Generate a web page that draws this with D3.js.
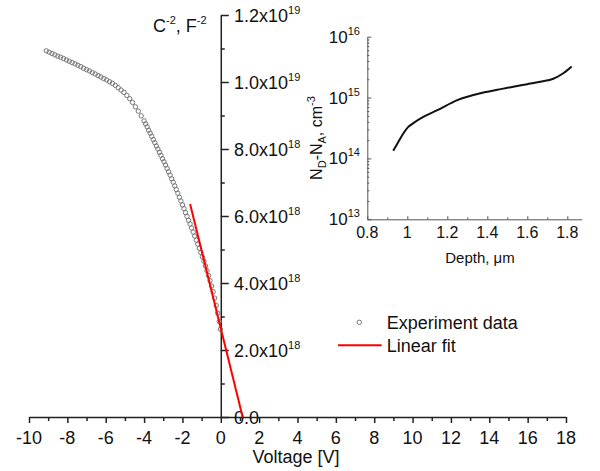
<!DOCTYPE html>
<html>
<head>
<meta charset="utf-8">
<script src="https://cdn.jsdelivr.net/npm/d3@7"></script>
<style>
  body { margin: 0; background: #fff; }
  svg { display: block; font-family: Arial, "Liberation Sans", sans-serif; }
</style>
</head>
<body>
<svg id="chart" width="600" height="471"></svg>
<script>
// ---------- Data ----------
const voltage = [
  -9.10,-8.95,-8.80,-8.65,-8.50,-8.35,-8.20,-8.05,-7.90,-7.75,-7.60,-7.45,-7.30,-7.15,-7.00,
  -6.85,-6.70,-6.55,-6.40,-6.25,-6.10,-5.95,-5.80,-5.65,-5.50,-5.35,-5.20,-5.05,-4.90,-4.75,
  -4.60,-4.45,-4.30,-4.15,
  -4.00,-3.92,-3.84,-3.76,-3.68,-3.60,-3.52,-3.44,-3.36,-3.28,-3.20,-3.12,-3.04,-2.96,-2.88,
  -2.80,-2.72,-2.64,-2.56,-2.48,-2.40,-2.32,-2.24,-2.16,-2.08,-2.00,-1.92,-1.84,-1.76,-1.68,
  -1.60,-1.52,-1.44,-1.36,-1.28,-1.20,-1.12,-1.04,-0.96,-0.88,-0.80,-0.72,-0.64,-0.56,-0.48,
  -0.40,-0.32,-0.24,-0.16,-0.08,-0.02
];
const capInvSq = [
  10.93e18,10.89e18,10.85e18,10.81e18,10.77e18,10.74e18,10.70e18,10.66e18,10.62e18,10.58e18,
  10.54e18,10.50e18,10.46e18,10.41e18,10.37e18,10.33e18,10.28e18,10.24e18,10.19e18,10.15e18,
  10.10e18,10.06e18,10.01e18,9.96e18,9.90e18,9.83e18,9.76e18,9.69e18,9.60e18,9.50e18,
  9.39e18,9.26e18,9.13e18,8.99e18,
  8.84e18,8.75e18,8.66e18,8.56e18,8.47e18,8.38e18,8.28e18,8.19e18,8.09e18,8.00e18,
  7.90e18,7.81e18,7.71e18,7.62e18,7.52e18,7.42e18,7.32e18,7.22e18,7.11e18,7.01e18,
  6.90e18,6.79e18,6.68e18,6.56e18,6.45e18,6.33e18,6.22e18,6.10e18,5.99e18,5.87e18,
  5.76e18,5.64e18,5.52e18,5.40e18,5.28e18,5.16e18,5.04e18,4.91e18,4.78e18,4.65e18,
  4.51e18,4.37e18,4.22e18,4.07e18,3.91e18,3.74e18,3.55e18,3.33e18,3.10e18,2.85e18,2.62e18
];
const fitVoltage = [-1.60, 1.14];
const fitCapInvSq = [6.36e18, 0];

const xMajorTicks = [-10,-8,-6,-4,-2,0,2,4,6,8,10,12,14,16,18];
const xMinorTicks = [-9,-7,-5,-3,-1,1,3,5,7,9,11,13,15,17];
const yMajorTicks = [0, 2e18, 4e18, 6e18, 8e18, 1e19, 1.2e19];
const yMajorLabels = [["0.0",""],["2.0x10","18"],["4.0x10","18"],["6.0x10","18"],["8.0x10","18"],["1.0x10","19"],["1.2x10","19"]];
const yMinorTicks = [1e18, 3e18, 5e18, 7e18, 9e18, 11e18];

// inset: doping profile
const depth = [0.93,0.955,0.98,1.005,1.03,1.08,1.15,1.25,1.36,1.45,1.53,1.60,1.665,1.73,1.78,1.822];
const doping = [1.34e14,1.86e14,2.57e14,3.3e14,3.8e14,4.8e14,6.2e14,9.1e14,1.17e15,1.34e15,1.51e15,1.66e15,1.82e15,2.04e15,2.51e15,3.24e15];
const insetXTicks = [0.8,1.0,1.2,1.4,1.6,1.8];
const insetXLabels = ["0.8","1","1.2","1.4","1.6","1.8"];
const insetXMinor = [0.9,1.1,1.3,1.5,1.7];
const insetYTicks = [1e13,1e14,1e15,1e16];
const insetYExp = ["13","14","15","16"];

// ---------- Chart ----------
const svg = d3.select("#chart");
const axisColor = "#222";

const x = d3.scaleLinear().domain([-10, 18]).range([29, 566]);
const y = d3.scaleLinear().domain([0, 1.2e19]).range([417, 15]);

// X axis
const gx = svg.append("g").attr("transform", `translate(0,${y(0)})`);
gx.call(d3.axisBottom(x).tickValues(xMajorTicks).tickSize(6).tickSizeOuter(0).tickFormat(""));
svg.append("g").attr("transform", `translate(0,${y(0)})`)
  .call(d3.axisBottom(x).tickValues(xMinorTicks).tickSize(4).tickSizeOuter(0).tickFormat(""))
  .select(".domain").remove();
svg.selectAll(".domain, .tick line").attr("stroke", axisColor).attr("stroke-width", 1.5);
svg.append("g").selectAll("text").data(xMajorTicks).join("text")
  .attr("x", d => x(d)).attr("y", 444)
  .attr("text-anchor", "middle").attr("font-size", 18).attr("fill", "#111")
  .text(d => d);
svg.append("text").attr("x", 296).attr("y", 463).attr("text-anchor", "middle")
  .attr("font-size", 18).attr("fill", "#111").text("Voltage [V]");

// Y axis
const gy = svg.append("g").attr("transform", `translate(${x(0)},0)`);
gy.call(d3.axisRight(y).tickValues(yMajorTicks).tickSize(8).tickSizeOuter(0).tickFormat(""));
const gy2 = svg.append("g").attr("transform", `translate(${x(0)},0)`);
gy2.call(d3.axisRight(y).tickValues(yMinorTicks).tickSize(4).tickSizeOuter(0).tickFormat(""));
gy2.select(".domain").remove();
[gy, gy2].forEach(g => g.selectAll(".domain, .tick line").attr("stroke", axisColor).attr("stroke-width", 1.5));

const yl = svg.append("g").selectAll("text").data(yMajorTicks).join("text")
  .attr("x", 234).attr("y", d => y(d) + 6.5)
  .attr("font-size", 18).attr("fill", "#111");
yl.append("tspan").text((d, i) => yMajorLabels[i][0]);
yl.append("tspan").attr("font-size", 11).attr("dy", -8).text((d, i) => yMajorLabels[i][1]);

// Title
const title = svg.append("text").attr("x", 153).attr("y", 32).attr("font-size", 18).attr("fill", "#111");
title.append("tspan").text("C");
title.append("tspan").attr("font-size", 11).attr("dy", -8).text("-2");
title.append("tspan").attr("dy", 8).text(", F");
title.append("tspan").attr("font-size", 11).attr("dy", -8).text("-2");

// Experimental data
const pts = voltage.map((v, i) => [v, capInvSq[i]]);
svg.append("g").selectAll("circle").data(pts).join("circle")
  .attr("cx", d => x(d[0])).attr("cy", d => y(d[1])).attr("r", 2.2)
  .attr("fill", "none").attr("stroke", "#777").attr("stroke-width", 1);

// Linear fit
const fitPts = fitVoltage.map((v, i) => [v, fitCapInvSq[i]]);
svg.append("path").datum(fitPts)
  .attr("d", d3.line().x(d => x(d[0])).y(d => y(d[1])))
  .attr("stroke", "#ff0000").attr("stroke-width", 2).attr("fill", "none");

// Legend
svg.append("circle").attr("cx", 359.3).attr("cy", 322.3).attr("r", 2.2)
  .attr("fill", "none").attr("stroke", "#777").attr("stroke-width", 1);
svg.append("text").attr("x", 386.7).attr("y", 328.5).attr("font-size", 18).attr("fill", "#111").text("Experiment data");
svg.append("line").attr("x1", 338).attr("x2", 381.7).attr("y1", 345.3).attr("y2", 345.3)
  .attr("stroke", "#ff0000").attr("stroke-width", 2);
svg.append("text").attr("x", 386.7).attr("y", 351.5).attr("font-size", 18).attr("fill", "#111").text("Linear fit");

// ---------- Inset ----------
const ix = d3.scaleLinear().domain([0.8, 1.872]).range([367.3, 581.7]);
const iy = d3.scaleLog().domain([1e13, 1e16]).range([219.3, 36.7]);
const insetColor = "#555";

const igx = svg.append("g").attr("transform", `translate(0,${iy(1e13)})`);
igx.call(d3.axisTop(ix).tickValues(insetXTicks).tickSize(3).tickSizeOuter(0).tickFormat(""));
const igx2 = svg.append("g").attr("transform", `translate(0,${iy(1e13)})`);
igx2.call(d3.axisTop(ix).tickValues(insetXMinor).tickSize(2).tickSizeOuter(0).tickFormat(""));
igx2.select(".domain").remove();

const minorLog = [];
[1e13, 1e14, 1e15].forEach(b => { for (let k = 2; k <= 9; k++) minorLog.push(b * k); });
const igy = svg.append("g").attr("transform", `translate(${ix(0.8)},0)`);
igy.call(d3.axisRight(iy).tickValues(insetYTicks).tickSize(4).tickSizeOuter(0).tickFormat(""));
const igy2 = svg.append("g").attr("transform", `translate(${ix(0.8)},0)`);
igy2.call(d3.axisRight(iy).tickValues(minorLog).tickSize(2).tickSizeOuter(0).tickFormat(""));
igy2.select(".domain").remove();
[igx, igx2, igy, igy2].forEach(g => g.selectAll(".domain, .tick line").attr("stroke", insetColor).attr("stroke-width", 1));

svg.append("g").selectAll("text").data(insetXTicks).join("text")
  .attr("x", d => ix(d)).attr("y", 237.5).attr("text-anchor", "middle")
  .attr("font-size", 16).attr("fill", "#111")
  .text((d, i) => insetXLabels[i]);
svg.append("text").attr("x", 480).attr("y", 263).attr("text-anchor", "middle")
  .attr("font-size", 15).attr("fill", "#111").text("Depth, μm");

const iyl = svg.append("g").selectAll("text").data(insetYTicks).join("text")
  .attr("x", 360).attr("y", d => iy(d) + 6).attr("text-anchor", "end")
  .attr("font-size", 17).attr("fill", "#111");
iyl.append("tspan").text("10");
iyl.append("tspan").attr("font-size", 11).attr("dy", -8).text((d, i) => insetYExp[i]);

const ylab = svg.append("text").attr("transform", "translate(322,138) rotate(-90)")
  .attr("text-anchor", "middle").attr("font-size", 16).attr("fill", "#111");
ylab.append("tspan").text("N");
ylab.append("tspan").attr("font-size", 11).attr("dy", 4).text("D");
ylab.append("tspan").attr("dy", -4).text("-N");
ylab.append("tspan").attr("font-size", 11).attr("dy", 4).text("A");
ylab.append("tspan").attr("dy", -4).text(", cm");
ylab.append("tspan").attr("font-size", 11).attr("dy", -7).text("-3");

const ipts = depth.map((d, i) => [d, doping[i]]);
svg.append("path").datum(ipts)
  .attr("d", d3.line().curve(d3.curveMonotoneX).x(d => ix(d[0])).y(d => iy(d[1])))
  .attr("stroke", "#111").attr("stroke-width", 2).attr("fill", "none");
</script>
</body>
</html>
